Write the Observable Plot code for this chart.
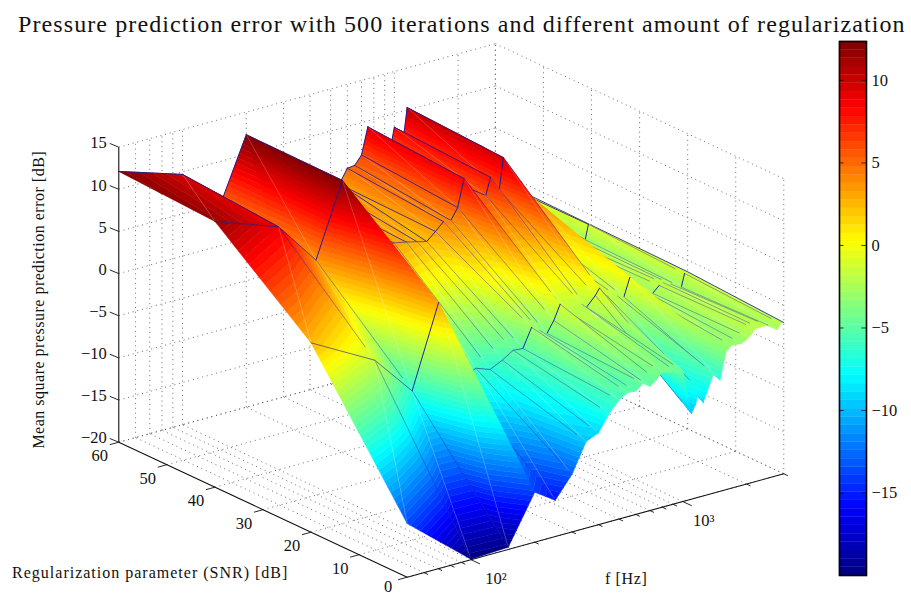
<!DOCTYPE html>
<html><head><meta charset="utf-8">
<script src="https://cdn.jsdelivr.net/npm/d3@7"></script>
<script src="https://cdn.jsdelivr.net/npm/@observablehq/plot@0.6"></script>
<style>
html,body{margin:0;padding:0;background:#fff;}
#page{position:relative;width:911px;height:596px;overflow:hidden;}
#title{height:36px;line-height:49px;white-space:nowrap;font-family:"Liberation Serif",serif;font-size:24px;letter-spacing:1.1px;color:#111;padding-left:18px;box-sizing:border-box;}
#bar{position:absolute;left:829px;top:31px;}
svg{display:block;}
</style></head><body>
<div id="page"><div id="title">Pressure prediction error with 500 iterations and different amount of regularization</div><div id="main"></div><div id="bar"></div></div>
<script>
// ---- data ----
const snrLevels = [0, 20, 40, 60];
const freqs = [50,100,150,200,250,300,350,400,450,500,550,600,650,700,750,800,950,1000,1100,1150,1200,1250,1400,1500,1600,1700,1900,2050,2200,2300,2500,2800,2900,3000];
const zSnr0  = [-13.64,-19.94,-19.74,-14.08,-15.7,-13.17,-9.74,-9.13,-7.16,-5.9,-5.29,-5.39,-4.69,-5.29,-4.69,-3.98,-4.6,-4.5,-9.84,-8.93,-7.31,-8.93,-5.8,-6.81,-3.68,-3.07,-3.17,-2.67,-1.86,-1.86,-1.86,-2.67,-2.06,-2.06];
const zSnr20 = [2.46,-1.68,-6.53,3.07,-6.83,-5.92,-6.53,-5.82,-5.01,-5.11,-2.89,-3.5,-4.1,-2.79,-1.07,-1.98,-1.78,-2.28,-1.17,-0.45,-1.08,-1.58,-1.98,-2.28,-0.16,-1.89,-2.39,-2.79,-2.08,-1.88,-2.28,-2.99,-1.48,-1.38];
const zSnr40 = [11.53,8.8,3.65,12.24,3.35,2.85,3.15,2.85,2.54,2.24,3.15,4.06,3.96,5.27,8.5,5.77,5.77,7.79,5.98,9.71,0.32,0.32,0.32,1.33,3.86,-1.7,-2.2,-2.2,-2.2,-2.2,-2.2,-2.71,-0.99,-1.2];
const zSnr60 = [12.12,9.69,4.74,12.32,3.43,3.43,3.43,3.43,3.94,4.44,3.43,5.05,5.15,6.16,9.29,5.45,5.45,8.38,6.46,10.3,0.4,0.4,0.4,1.41,2.42,-1.1,-1.1,-1.1,-1.1,-1.1,-1.1,-1.62,-1.01,-1.01];
const zRows = [zSnr0, zSnr20, zSnr40, zSnr60];
const zTicks = [-20,-15,-10,-5,0,5,10,15];
const snrTicks = [0,10,20,30,40,50,60];
const fMajor = [100,1000];
const fMinor = [60,70,80,90,200,300,400,500,600,700,800,900,2000,3000];
const barTicks = [-15,-10,-5,0,5,10];
const zDomain = [-20, 12.36];
const nLevels = 64;
const plainEdgeFreqs = [200, 1600];

// ---- orthographic view of the 3-D axes box ----
const view = {ox:406.7, oy:576.7, sx:4.807, sy:2.25, fx:211.8, fy:58.16, zy:8.43, fmin:50, zmin:-20};
function project(f, s, z) {
  const l = Math.log10(f / view.fmin);
  return [view.ox - view.sx * s + view.fx * l, view.oy - view.sy * s - view.fy * l - view.zy * (z - view.zmin)];
}
function jet(k) {
  const t = (k + 0.5) / nLevels, c = v => Math.round(255 * Math.max(0, Math.min(1, v)));
  return `rgb(${c(Math.min(4*t-1.5,-4*t+4.5))},${c(Math.min(4*t-0.5,-4*t+3.5))},${c(Math.min(4*t+0.5,-4*t+2.5))})`;
}
const step = (zDomain[1] - zDomain[0]) / nLevels;

function clip(poly, lim, keepAbove) {
  const out = [];
  for (let i = 0; i < poly.length; i++) {
    const a = poly[i], b = poly[(i + 1) % poly.length];
    const ina = keepAbove ? a[2] >= lim : a[2] <= lim, inb = keepAbove ? b[2] >= lim : b[2] <= lim;
    if (ina) out.push(a);
    if (ina !== inb) { const t = (lim - a[2]) / (b[2] - a[2]); out.push([a[0]+t*(b[0]-a[0]), a[1]+t*(b[1]-a[1]), lim]); }
  }
  return out;
}
const V = (i, j) => { const z = zRows[j][i], p = project(freqs[i], snrLevels[j], z); return [p[0], p[1], z]; };
const orient = (a, b, c) => Math.sign((b[0]-a[0])*(c[1]-a[1]) - (b[1]-a[1])*(c[0]-a[0]));

const verts = [];
let id = 0;
function addPoly(pts, fill, stroke, sw, so) {
  id++;
  for (const p of pts) verts.push({x:p[0], y:p[1], id, fill, stroke, sw, so});
}
function addTri(tri) {
  const zs = tri.map(d => d[2]);
  const k0 = Math.max(0, Math.floor((d3.min(zs) - zDomain[0]) / step));
  const k1 = Math.min(nLevels - 1, Math.floor((d3.max(zs) - zDomain[0]) / step));
  for (let k = k0; k <= k1; k++) {
    let p = clip(tri, zDomain[0] + k * step, true);
    if (p.length) p = clip(p, zDomain[0] + (k + 1) * step, false);
    if (p.length > 2) { const col = jet(k); addPoly([...p, p[0]], col, col, 0.5, 1); }
  }
}
const blue = "rgb(24,24,150)";
const lerp = (a, b, t) => [a[0]+t*(b[0]-a[0]), a[1]+t*(b[1]-a[1]), a[2]];
for (let j = snrLevels.length - 2; j >= 0; j--) {
  for (let i = freqs.length - 2; i >= 0; i--) {
    const A = V(i,j), B = V(i+1,j), C = V(i+1,j+1), D = V(i,j+1);
    if (orient(A,B,C) < 0) { addTri([A,B,C]); addTri([A,C,D]); } else { addTri([A,C,D]); addTri([A,B,C]); }
    // faint seam on the triangle diagonal
    addPoly([A,C], "none", "#fff", 0.6, 0.35);
    // creases running along the SNR direction
    const ip = i + 1, last = ip === freqs.length - 1;
    if (last) addPoly([C,B], "none", blue, 0.9, 0.9);
    else if (j === 2) addPoly([C,B], "none", blue, 0.9, 0.9);
    else if (!plainEdgeFreqs.includes(freqs[ip])) addPoly([C, lerp(C,B,0.9)], "none", blue, 0.65, 0.6);
    // creases running along the frequency direction
    const top = j === 2, f = freqs[i];
    const steep = Math.abs(C[1]-D[1]) > Math.abs(C[0]-D[0]);
    if (top || steep) addPoly([C,D], "none", blue, 1, 0.95);
    else if (f <= 500) addPoly([C,D], "none", blue, 0.8, 0.75);
  }
}

// ---- box grid, axes, ticks ----
const seg = (a, b) => { const p = project(...a), q = project(...b); return {x1:p[0], y1:p[1], x2:q[0], y2:q[1]}; };
const fmax = 3000, zTop = 15, zBot = -20, sMax = 60;
const grid = [];
for (const f of [...fMajor, ...fMinor]) {
  grid.push(seg([f,0,zBot],[f,sMax,zBot]), seg([f,sMax,zBot],[f,sMax,zTop]));
}
for (const s of snrTicks) {
  grid.push(seg([view.fmin,s,zBot],[fmax,s,zBot]), seg([fmax,s,zBot],[fmax,s,zTop]));
}
for (const z of zTicks) {
  grid.push(seg([view.fmin,sMax,z],[fmax,sMax,z]), seg([fmax,sMax,z],[fmax,0,z]));
}
const axes = [seg([view.fmin,sMax,zBot],[view.fmin,sMax,zTop]), seg([view.fmin,0,zBot],[view.fmin,sMax,zBot]), seg([view.fmin,0,zBot],[fmax,0,zBot])];
const offs = (a, dx, dy) => { const p = project(...a); return {x1:p[0], y1:p[1], x2:p[0]+dx, y2:p[1]+dy}; };
const ticks = [
  ...zTicks.map(z => offs([view.fmin,sMax,z], -9, -3.7)),
  ...snrTicks.map(s => offs([view.fmin,s,zBot], -9, 2.5)),
  ...fMajor.map(f => offs([f,0,zBot], 9, 4.2)),
  ...fMinor.map(f => offs([f,0,zBot], 4, 1.9))
];
const label = (a, dx, dy, text, anchor) => { const p = project(...a); return {x:p[0]+dx, y:p[1]+dy, text, anchor}; };
const labels = [
  ...zTicks.map(z => label([view.fmin,sMax,z], -12, -4, String(z).replace("-", "\u2212"), "end")),
  ...snrTicks.map(s => label([view.fmin,s,zBot], -19, s === 0 ? 9.5 : 14, String(s), "middle")),
  label([100,0,zBot], 25, 19, "10\u00b2", "middle"),
  label([1000,0,zBot], 21, 19, "10\u00b3", "middle")
];
const font = "Liberation Serif";
const zTitle = "Mean square pressure prediction error [dB]", fTitle = "f [Hz]", sTitle = "Regularization parameter (SNR) [dB]";

const main = Plot.plot({
  width: 911, height: 560, margin: 0,
  x: {domain:[0,911], range:[0,911], axis:null},
  y: {domain:[36,596], range:[0,560], axis:null},
  color: {type:"identity"},
  marks: [
    Plot.link(grid, {x1:"x1",y1:"y1",x2:"x2",y2:"y2",stroke:"#555",strokeWidth:0.85,strokeDasharray:"1 3.8"}),
    Plot.line(verts, {x:"x",y:"y",z:"id",fill:"fill",stroke:"stroke",strokeWidth:"sw",strokeOpacity:"so",curve:"linear"}),
    Plot.link(axes, {x1:"x1",y1:"y1",x2:"x2",y2:"y2",stroke:"#111",strokeWidth:1.1}),
    Plot.link(ticks, {x1:"x1",y1:"y1",x2:"x2",y2:"y2",stroke:"#111",strokeWidth:0.9}),
    Plot.text(labels.filter(d => d.anchor === "end"), {x:"x",y:"y",text:"text",textAnchor:"end",fontSize:16.5,fontFamily:font,fill:"#111"}),
    Plot.text(labels.filter(d => d.anchor === "middle"), {x:"x",y:"y",text:"text",textAnchor:"middle",fontSize:16.5,fontFamily:font,fill:"#111"}),
    Plot.text([label([view.fmin,sMax,-3.1], -80, 0, zTitle, "middle")], {x:"x",y:"y",text:"text",rotate:-90,fontSize:16,fontFamily:font,fill:"#111"}),
    Plot.text([label([view.fmin,0,zBot], 219, 2, fTitle, "middle")], {x:"x",y:"y",text:"text",fontSize:16,fontFamily:font,fill:"#111"}),
    Plot.text([label([view.fmin,0,zBot], -257, -4, sTitle, "middle")], {x:"x",y:"y",text:"text",fontSize:16,fontFamily:font,fill:"#111"})
  ]
});
for (const t of main.querySelectorAll("text")) {
  const s = t.textContent;
  if (s === zTitle) t.style.letterSpacing = "0.5px";
  if (s === sTitle) t.style.letterSpacing = "1px";
  if (s === fTitle) t.style.letterSpacing = "0.6px";
}
document.getElementById("main").append(main);

// ---- colour bar ----
const bands = d3.range(nLevels).map(k => ({lo: zDomain[0] + k * step, hi: zDomain[0] + (k + 1) * step, col: jet(k)}));
const bar = Plot.plot({
  width: 80, height: 565, marginLeft: 10, marginRight: 43, marginTop: 10, marginBottom: 21,
  x: {domain:[0,1], axis:null},
  y: {domain: zDomain, axis:null},
  color: {type:"identity"},
  marks: [
    Plot.rect(bands, {x1:0, x2:1, y1:"lo", y2:"hi", fill:"col", stroke:"col", strokeWidth:0.3}),
    Plot.ruleY(barTicks, {x1:0, x2:0.17, stroke:"#111", strokeWidth:0.8}),
    Plot.ruleY(barTicks, {x1:0.83, x2:1, stroke:"#111", strokeWidth:0.8}),
    Plot.frame({stroke:"#000", strokeWidth:1.6}),
    Plot.axisY(barTicks, {anchor:"right", tickSize:0, tickPadding:5, fontSize:16.5, fontFamily:font, fill:"#111", label:null})
  ]
});
document.getElementById("bar").append(bar);
</script>
</body></html>
